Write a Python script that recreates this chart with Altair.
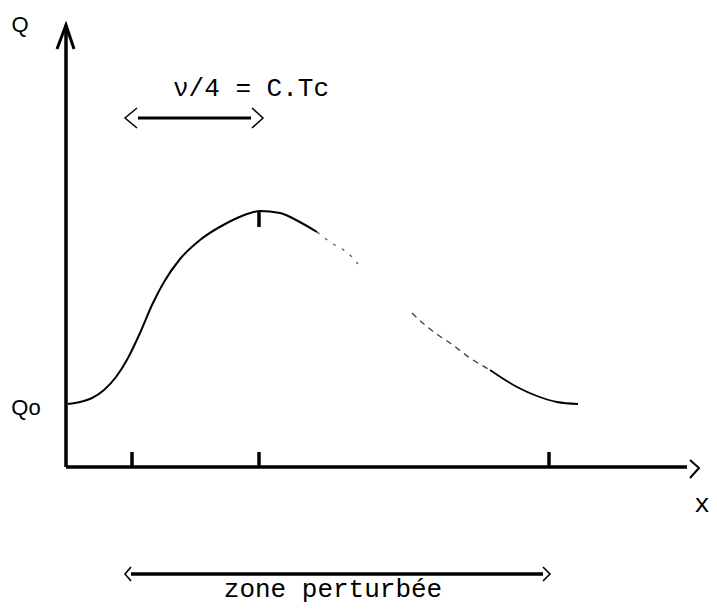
import altair as alt
import pandas as pd

# Diagram units: x measured from the Q axis, y measured upward from the x axis
X_DOMAIN = [-58, 643]
Y_DOMAIN = [-138, 459]

# Main (solid) part of the curve: from Qo up to the crest and a little beyond
curve_x = [2, 14, 26, 38, 50, 62, 74, 86, 98, 114, 134, 161, 181, 194, 214, 232, 251]
curve_y = [63, 65, 69, 77, 90, 109, 134, 162, 185, 208, 227, 244, 253, 256, 254, 246, 235]
# Faint (worn) parts of the descending branch
faint1_x = [251, 264, 284, 292]
faint1_y = [235, 225, 212, 203]
faint2_x = [346, 359, 372, 384, 404, 424]
faint2_y = [154, 142, 132, 124, 109, 97]
# Tail back to Qo
tail_x = [424, 451, 471, 491, 512]
tail_y = [97, 80, 71, 65, 63]

# Tick marks on the x axis and at the crest
tick_x = [66, 193, 483]
tick_len = 15
crest_x = 193
crest_top = 256
crest_bottom = 240

# Axes extents
x_axis_end = 621
y_axis_end = 442

# Double arrows: (y level, left end, right end)
nu_arrow = (349, 72, 185)
zone_arrow = (-107, 65, 477)

# Chevron heads: id, points
chev_id = ["yhead"] * 3 + ["xhead"] * 3 + ["nuL"] * 3 + ["nuR"] * 3 + ["zL"] * 3 + ["zR"] * 3
chev_x = [-9, 0, 8, 624, 633, 624, 71, 59, 71, 186, 197, 186, 65, 59, 65, 477, 484, 477]
chev_y = [418, 442, 418, 7, -1, -11, 359, 349, 339, 359, 349, 339, -100, -107, -114, -100, -107, -114]
chev_w = [3, 3, 3, 2, 2, 2, 1.5, 1.5, 1.5, 1.5, 1.5, 1.5, 1.6, 1.6, 1.6, 1.6, 1.6, 1.6]

# Labels
mono_labels = ["ν/4 = C.Tc", "zone perturbée", "x"]
mono_x = [185, 267, 636]
mono_y = [379, -122, -37]
sans_labels = ["Q", "Qo"]
sans_x = [-46, -40]
sans_y = [442, 59]

xs = alt.Scale(domain=X_DOMAIN, nice=False, zero=False)
ys = alt.Scale(domain=Y_DOMAIN, nice=False, zero=False)
X = lambda f: alt.X(f, type="quantitative", scale=xs, axis=None)
Y = lambda f: alt.Y(f, type="quantitative", scale=ys, axis=None)


def line_df(xv, yv):
    return pd.DataFrame({"x": xv, "y": yv, "o": list(range(len(xv)))})


main = alt.Chart(line_df(curve_x, curve_y)).mark_line(
    color="black", strokeWidth=2, interpolate="monotone"
).encode(x=X("x"), y=Y("y"), order="o:Q")

faint1 = alt.Chart(line_df(faint1_x, faint1_y)).mark_line(
    color="#555555", strokeWidth=1.3, strokeDash=[3, 7], interpolate="monotone"
).encode(x=X("x"), y=Y("y"), order="o:Q")

faint2 = alt.Chart(line_df(faint2_x, faint2_y)).mark_line(
    color="#444444", strokeWidth=1.4, strokeDash=[6, 5], interpolate="monotone"
).encode(x=X("x"), y=Y("y"), order="o:Q")

tail = alt.Chart(line_df(tail_x, tail_y)).mark_line(
    color="black", strokeWidth=1.8, interpolate="monotone"
).encode(x=X("x"), y=Y("y"), order="o:Q")

# Axes and arrow shafts as rules
rules = pd.DataFrame({
    "x": [0, 0, nu_arrow[1], zone_arrow[1]],
    "x2": [x_axis_end, 0, nu_arrow[2], zone_arrow[2]],
    "y": [0, 0, nu_arrow[0], zone_arrow[0]],
    "y2": [0, y_axis_end, nu_arrow[0], zone_arrow[0]],
    "w": [3.5, 3.5, 3, 3.5],
})
shafts = alt.Chart(rules).mark_rule(color="black").encode(
    x=X("x"), x2="x2", y=Y("y"), y2="y2",
    strokeWidth=alt.StrokeWidth("w:Q", scale=None, legend=None),
)

ticks_df = pd.DataFrame({
    "x": tick_x + [crest_x],
    "y": [0] * len(tick_x) + [crest_bottom],
    "y2": [tick_len] * len(tick_x) + [crest_top],
})
ticks = alt.Chart(ticks_df).mark_rule(color="black", strokeWidth=3.5).encode(
    x=X("x"), y=Y("y"), y2="y2"
)

chev_df = pd.DataFrame({"id": chev_id, "x": chev_x, "y": chev_y, "w": chev_w,
                        "o": list(range(len(chev_x)))})
chevrons = alt.Chart(chev_df).mark_line(color="black", strokeJoin="miter").encode(
    x=X("x"), y=Y("y"), detail="id:N", order="o:Q",
    strokeWidth=alt.StrokeWidth("w:Q", scale=None, legend=None),
)

mono = alt.Chart(pd.DataFrame({"t": mono_labels, "x": mono_x, "y": mono_y})).mark_text(
    font="Liberation Mono", fontSize=26, color="black", align="center", baseline="middle"
).encode(x=X("x"), y=Y("y"), text="t:N")

sans = alt.Chart(pd.DataFrame({"t": sans_labels, "x": sans_x, "y": sans_y})).mark_text(
    font="Liberation Sans", fontSize=22, color="black", align="center", baseline="middle"
).encode(x=X("x"), y=Y("y"), text="t:N")

chart = alt.layer(
    shafts, ticks, chevrons, main, faint1, faint2, tail, mono, sans
).properties(
    width=701, height=597, padding=0, autosize=alt.AutoSizeParams(type="none"),
    background="white",
).configure_view(stroke=None)

chart.save("out.html", embed_options={"renderer": "svg", "actions": False})
